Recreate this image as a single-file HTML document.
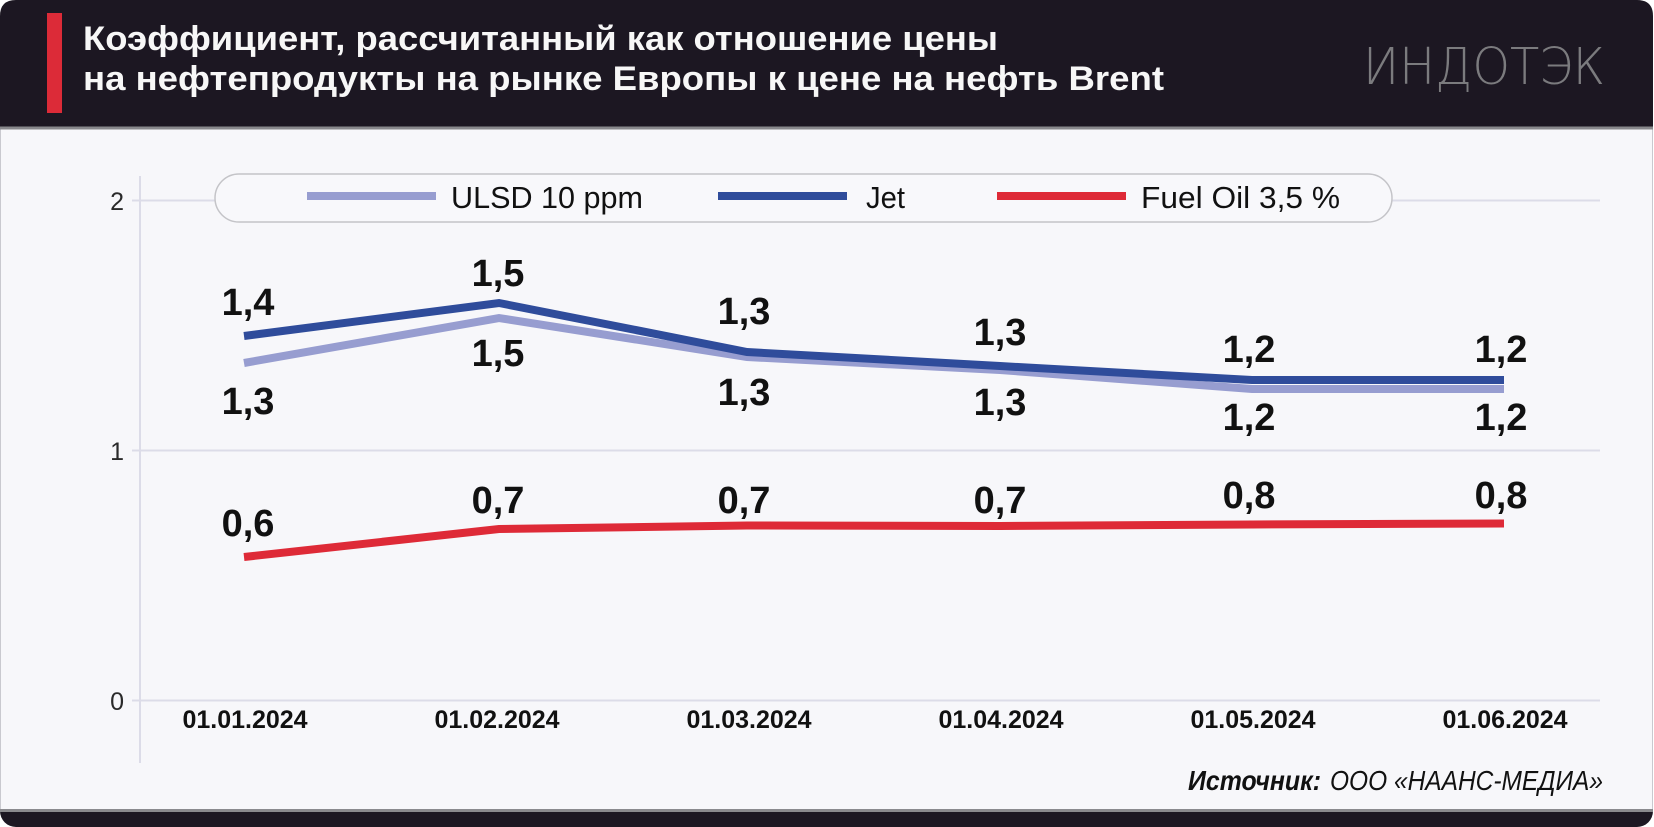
<!DOCTYPE html>
<html>
<head>
<meta charset="utf-8">
<style>
  html, body { margin: 0; padding: 0; background: #ffffff; }
  svg { display: block; }
</style>
</head>
<body>
<svg width="1654" height="827" viewBox="0 0 1654 827" xmlns="http://www.w3.org/2000/svg">
  <!-- card body -->
  <rect x="0" y="100" width="1653" height="727" rx="16" ry="16" fill="#1c1722"/>
  <rect x="0" y="126" width="1653" height="686" fill="#8a8a8e"/>
  <rect x="0.5" y="129" width="1652" height="681" fill="#f7f7fa" stroke="#c9c9cf" stroke-width="1"/>
  <!-- header -->
  <path d="M0,127 L0,16 Q0,0 16,0 L1637,0 Q1653,0 1653,16 L1653,127 Z" fill="#1c1722"/>
  <rect x="0" y="126.5" width="1653" height="3" fill="#88888c"/>
  <rect x="0" y="809" width="1653" height="2" fill="#8a8a8e"/>
  <!-- red bar -->
  <rect x="47" y="13" width="15" height="100" fill="#dc2b38"/>
  <!-- title -->
  <text x="83" y="50" font-family="Liberation Sans, sans-serif" font-weight="bold" font-size="34" fill="#f7f7f7" textLength="915" lengthAdjust="spacingAndGlyphs">Коэффициент, рассчитанный как отношение цены</text>
  <text x="83" y="90" font-family="Liberation Sans, sans-serif" font-weight="bold" font-size="34" fill="#f7f7f7" textLength="1081" lengthAdjust="spacingAndGlyphs">на нефтепродукты на рынке Европы к цене на нефть Brent</text>
  <!-- logo -->
  <text x="1363" y="84" font-family="DejaVu Sans, Liberation Sans, sans-serif" font-weight="200" font-size="51" fill="#7b7b7e" textLength="242" lengthAdjust="spacingAndGlyphs">ИНДОТЭК</text>

  <!-- grid -->
  <g stroke="#dcdce8" stroke-width="2">
    <line x1="132" y1="200.5" x2="1600" y2="200.5"/>
    <line x1="132" y1="450.5" x2="1600" y2="450.5"/>
    <line x1="132" y1="700.5" x2="1600" y2="700.5"/>
    <line x1="140" y1="176" x2="140" y2="763"/>
  </g>
  <!-- y labels -->
  <g font-family="Liberation Sans, sans-serif" font-size="25" fill="#2a2a2a" text-anchor="end">
    <text x="124" y="210">2</text>
    <text x="124" y="460">1</text>
    <text x="124" y="710">0</text>
  </g>
  <!-- x labels -->
  <g font-family="Liberation Sans, sans-serif" font-weight="bold" font-size="25" fill="#111" text-anchor="middle">
    <text x="245" y="728">01.01.2024</text>
    <text x="497" y="728">01.02.2024</text>
    <text x="749" y="728">01.03.2024</text>
    <text x="1001" y="728">01.04.2024</text>
    <text x="1253" y="728">01.05.2024</text>
    <text x="1505" y="728">01.06.2024</text>
  </g>

  <!-- legend -->
  <rect x="215" y="174" width="1177" height="48" rx="24" ry="24" fill="#f8f8fb" stroke="#c4c4c8" stroke-width="1.5"/>
  <rect x="307" y="192" width="129" height="8" fill="#979dd0"/>
  <rect x="718" y="192" width="129" height="8" fill="#2f4c9b"/>
  <rect x="997" y="192" width="129" height="8" fill="#de2a37"/>
  <g font-family="Liberation Sans, sans-serif" font-size="31" fill="#111">
    <text x="451" y="208" textLength="192" lengthAdjust="spacingAndGlyphs">ULSD 10 ppm</text>
    <text x="866" y="208" textLength="39" lengthAdjust="spacingAndGlyphs">Jet</text>
    <text x="1141" y="208" textLength="199" lengthAdjust="spacingAndGlyphs">Fuel Oil 3,5 %</text>
  </g>

  <!-- series -->
  <polyline fill="none" stroke="#979dd0" stroke-width="8" stroke-linejoin="miter" stroke-linecap="butt"
    points="244,363 499,318 747,357 1000,370 1252,389 1504,389"/>
  <polyline fill="none" stroke="#2f4c9b" stroke-width="8" stroke-linejoin="miter" stroke-linecap="butt"
    points="244,336 499,303 747,352 1000,366 1252,380 1504,380"/>
  <polyline fill="none" stroke="#de2a37" stroke-width="8" stroke-linejoin="miter" stroke-linecap="butt"
    points="244,557 499,529 747,525.5 1000,526 1252,524.5 1504,523.5"/>

  <!-- data labels -->
  <g font-family="Liberation Sans, sans-serif" font-weight="bold" font-size="38" fill="#111" text-anchor="middle">
    <!-- Jet -->
    <text x="248" y="315">1,4</text>
    <text x="498" y="286">1,5</text>
    <text x="744" y="324">1,3</text>
    <text x="1000" y="345">1,3</text>
    <text x="1249" y="362">1,2</text>
    <text x="1501" y="362">1,2</text>
    <!-- ULSD -->
    <text x="248" y="414">1,3</text>
    <text x="498" y="366">1,5</text>
    <text x="744" y="405">1,3</text>
    <text x="1000" y="415">1,3</text>
    <text x="1249" y="430">1,2</text>
    <text x="1501" y="430">1,2</text>
    <!-- Fuel oil -->
    <text x="248" y="536">0,6</text>
    <text x="498" y="513">0,7</text>
    <text x="744" y="513">0,7</text>
    <text x="1000" y="513">0,7</text>
    <text x="1249" y="508">0,8</text>
    <text x="1501" y="508">0,8</text>
  </g>

  <!-- source -->
  <text x="1188" y="790" font-family="Liberation Sans, sans-serif" font-weight="bold" font-style="italic" font-size="28" fill="#111" textLength="133" lengthAdjust="spacingAndGlyphs">Источник:</text>
  <text x="1330" y="790" font-family="Liberation Sans, sans-serif" font-style="italic" font-size="28" fill="#111" textLength="273" lengthAdjust="spacingAndGlyphs">ООО «НААНС-МЕДИА»</text>
</svg>
</body>
</html>
